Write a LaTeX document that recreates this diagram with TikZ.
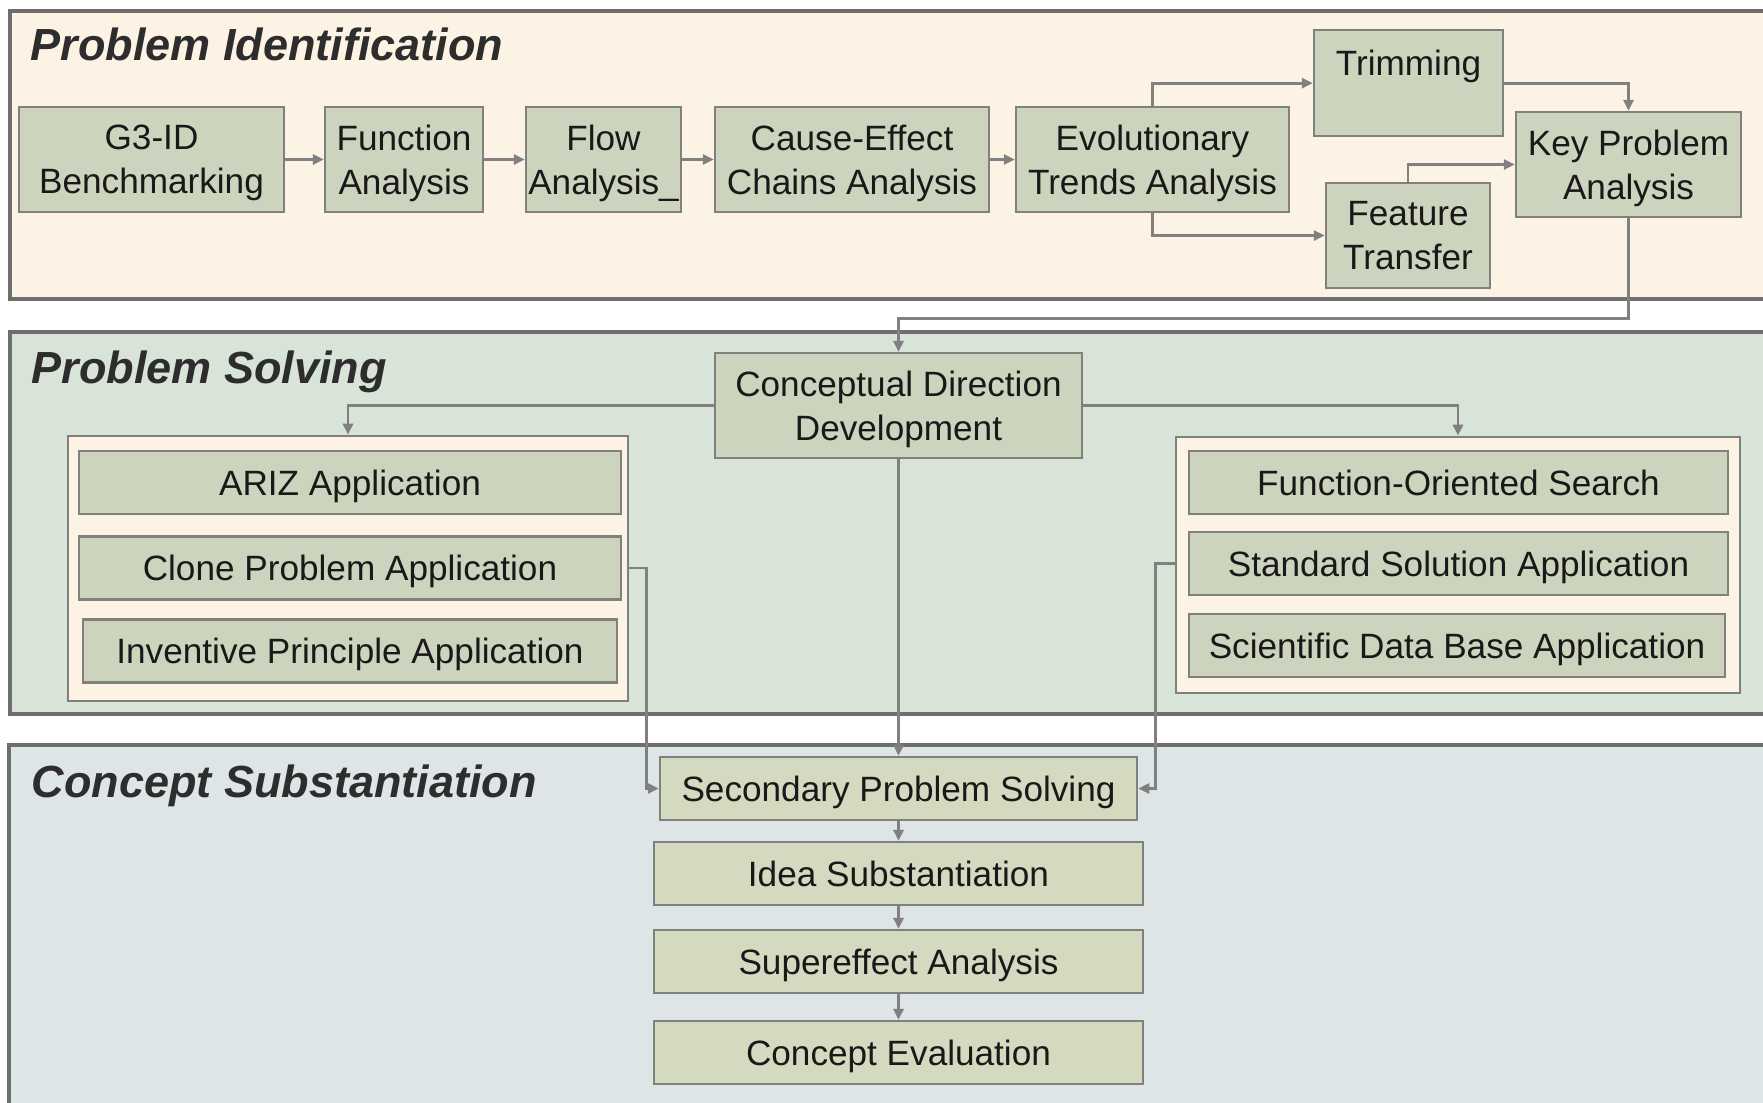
\documentclass[tikz,border=0pt]{standalone}
\usepackage{fontspec}
\setmainfont{Liberation Sans}
\usetikzlibrary{arrows.meta}

\definecolor{panelA}{RGB}{253,243,228}
\definecolor{panelB}{RGB}{216,228,216}
\definecolor{panelC}{RGB}{221,229,230}
\definecolor{boxfill}{RGB}{205,212,190}
\definecolor{boxfillC}{RGB}{212,218,192}
\definecolor{boxline}{RGB}{128,128,124}
\definecolor{panelline}{RGB}{110,110,110}
\definecolor{wire}{RGB}{128,128,128}
\definecolor{ink}{RGB}{25,25,25}
\definecolor{headink}{RGB}{45,45,45}

\begin{document}
\begin{tikzpicture}[x=0.01cm,y=-0.01cm,
  panel/.style={draw=panelline, line width=0.035cm},
  group/.style={draw=boxline, fill=panelA, line width=0.025cm, inner sep=0},
  box/.style={draw=boxline, fill=boxfill, line width=0.022cm, inner sep=0,
    align=center, text=ink, font=\fontsize{10}{12.5}\selectfont},
  tall/.style={minimum height=1.05cm, text depth=0pt},
  flat/.style={minimum height=0.63cm, text height=7.2pt, text depth=0pt},
  heading/.style={anchor=base west, inner sep=0, text=headink,
    font=\fontsize{12.8}{15}\selectfont\bfseries\itshape},
  arr/.style={draw=wire, line width=0.028cm, -{Triangle[length=0.11cm,width=0.1cm]}}
]
\useasboundingbox (0,0) rectangle (1763,1102);
\clip (0,0) rectangle (1763,1102);

% --- three stage panels ---
\draw[panel, fill=panelA] (10,11) rectangle (1800,299);
\draw[panel, fill=panelB] (10,332) rectangle (1800,714);
\draw[panel, fill=panelC] (9,745) rectangle (1800,1120);

\node[heading] (h1) at (30,60) {Problem Identification};
\node[heading] (h2) at (31,383) {Problem Solving};
\node[heading] (h3) at (31,797) {Concept Substantiation};

% --- problem identification ---
\node[box, tall, minimum width=2.65cm] (g3) at (151.5,159.5) {G3-ID\\Benchmarking};
\node[box, tall, minimum width=1.58cm] (fa) at (404,159.5) {Function\\Analysis};
\node[box, tall, minimum width=1.55cm] (flow) at (603.5,159.5) {Flow\\Analysis\_};
\node[box, tall, minimum width=2.74cm] (ce) at (852,159.5) {Cause-Effect\\Chains Analysis};
\node[box, tall, minimum width=2.73cm] (evo) at (1152.5,159.5) {Evolutionary\\Trends Analysis};
\node[box, minimum width=1.89cm, anchor=north, text height=0.45cm, text depth=0.61cm]
  (trim) at (1408.5,29) {Trimming};
\node[box, tall, minimum width=1.64cm] (feat) at (1408,235.5) {Feature\\Transfer};
\node[box, tall, minimum width=2.25cm] (key) at (1628.5,164.5) {Key Problem\\Analysis};

\draw[arr] (g3) -- (fa);
\draw[arr] (fa) -- (flow);
\draw[arr] (flow) -- (ce);
\draw[arr] (ce) -- (evo);
\draw[arr] (evo.north) |- (trim.west);
\draw[arr] (evo.south) |- (feat.west);
\draw[arr] (trim.east) -| (key.north);
\draw[arr] (feat.north) |- (key.west);

% --- problem solving ---
\node[box, tall, minimum width=3.67cm] (cdd) at (898.5,405.5) {Conceptual Direction\\Development};

\node[group, minimum width=5.6cm, minimum height=2.65cm] (lgrp) at (348,568.5) {};
\node[box, flat, minimum width=5.42cm] (ariz) at (350,482.5) {ARIZ Application};
\node[box, flat, minimum width=5.42cm] (clone) at (350,568) {Clone Problem Application};
\node[box, flat, minimum width=5.34cm] (inv) at (350,651) {Inventive Principle Application};

\node[group, minimum width=5.64cm, minimum height=2.56cm] (rgrp) at (1458,565) {};
\node[box, flat, minimum width=5.39cm] (fos) at (1458.5,482.5) {Function-Oriented Search};
\node[box, flat, minimum width=5.39cm] (ssa) at (1458.5,563.5) {Standard Solution Application};
\node[box, flat, minimum width=5.36cm] (sdb) at (1457,645.5) {Scientific Data Base Application};

\draw[arr] (key.south) -- ++(0,100) -| (cdd.north);
\draw[arr] (cdd.west) -| (lgrp.north);
\draw[arr] (cdd.east) -| (rgrp.north);

% --- concept substantiation ---
\node[box, flat, fill=boxfillC, minimum width=4.77cm] (sps) at (898.5,788.5) {Secondary Problem Solving};
\node[box, flat, fill=boxfillC, minimum width=4.88cm] (idea) at (898.5,873.5) {Idea Substantiation};
\node[box, flat, fill=boxfillC, minimum width=4.88cm] (sup) at (898.5,961.5) {Supereffect Analysis};
\node[box, flat, fill=boxfillC, minimum width=4.88cm] (eval) at (898.5,1052.5) {Concept Evaluation};

\draw[arr] (cdd.south) -- (sps.north);
\draw[arr] (lgrp.east |- clone.east) -- ++(17,0) |- (sps.west);
\draw[arr] (rgrp.west |- ssa.west) -- ++(-19,0) |- (sps.east);
\draw[arr] (sps) -- (idea);
\draw[arr] (idea) -- (sup);
\draw[arr] (sup) -- (eval);
\end{tikzpicture}
\end{document}
